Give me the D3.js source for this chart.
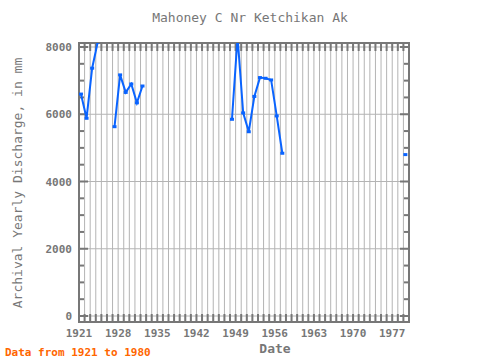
<!DOCTYPE html>
<html>
<head>
<meta charset="utf-8">
<script src="https://cdn.jsdelivr.net/npm/d3@7"></script>
<style>
  body { margin: 0; background: #fff; }
  svg { display: block; font-family: "DejaVu Sans Mono", monospace; }
</style>
</head>
<body>
<svg id="chart" width="480" height="360"></svg>
<script>
// annual values (mm), null = gap in record
const years = [1921, 1922, 1923, 1924, 1925, 1927, 1928, 1929, 1930, 1931, 1932, 1933,
  1948, 1949, 1950, 1951, 1952, 1953, 1954, 1955, 1956, 1957, 1958, 1979];
const discharge = [6600, 5880, 7370, 8150, null, 5630, 7170, 6650, 6900, 6340, 6840, null,
  5850, 8300, 6040, 5480, 6530, 7090, 7070, 7020, 5950, 4840, null, 4800];
const xTickYears = [1921, 1928, 1935, 1942, 1949, 1956, 1963, 1970, 1977];
const yTickValues = [0, 2000, 4000, 6000, 8000];

const svg = d3.select("#chart");
const pLeft = 79, pRight = 409, pTop = 43, pBottom = 322;
const grey = "#777";

const x = d3.scaleLinear().domain([1921, 1980]).range([pLeft, pRight]);
const y = d3.scaleLinear().domain([0, 8000]).range([316, 47]);

// gridlines
const yearsAll = d3.range(1921, 1981);
svg.append("g").selectAll("line").data(yearsAll.slice(1, -1)).join("line")
  .attr("x1", d => x(d)).attr("x2", d => x(d))
  .attr("y1", pTop).attr("y2", pBottom)
  .attr("stroke", "#b4b4b4").attr("stroke-width", 1);
svg.append("g").selectAll("line").data(yTickValues).join("line")
  .attr("x1", pLeft).attr("x2", pRight)
  .attr("y1", d => y(d)).attr("y2", d => y(d))
  .attr("stroke", "#b4b4b4").attr("stroke-width", 1);

// ticks
const ticks = svg.append("g").attr("stroke", grey).attr("stroke-width", 2);
yearsAll.forEach(yr => {
  ticks.append("line").attr("x1", x(yr)).attr("x2", x(yr)).attr("y1", pBottom).attr("y2", pBottom - 8);
  ticks.append("line").attr("x1", x(yr)).attr("x2", x(yr)).attr("y1", pTop).attr("y2", pTop + 8);
});
d3.range(0, 8001, 500).forEach(v => {
  const len = v % 2000 === 0 ? 9 : 5;
  ticks.append("line").attr("x1", pLeft).attr("x2", pLeft + len).attr("y1", y(v)).attr("y2", y(v));
  ticks.append("line").attr("x1", pRight).attr("x2", pRight - len).attr("y1", y(v)).attr("y2", y(v));
});

// frame
svg.append("rect")
  .attr("x", pLeft).attr("y", pTop).attr("width", pRight - pLeft).attr("height", pBottom - pTop)
  .attr("fill", "none").attr("stroke", grey).attr("stroke-width", 2);

// line
svg.append("clipPath").attr("id", "plot-clip")
  .append("rect").attr("x", pLeft).attr("y", pTop).attr("width", pRight - pLeft).attr("height", pBottom - pTop);

const pts = years.map((yr, i) => ({ yr: yr + 0.35, v: discharge[i] }));
const line = d3.line().defined(d => d.v != null).x(d => x(d.yr)).y(d => y(d.v));
const plot = svg.append("g").attr("clip-path", "url(#plot-clip)");
plot.append("path").datum(pts)
  .attr("d", line)
  .attr("fill", "none").attr("stroke", "#0a64ff").attr("stroke-width", 2);
plot.selectAll("rect.pt").data(pts.filter(d => d.v != null)).join("rect")
  .attr("class", "pt")
  .attr("x", d => x(d.yr) - 2).attr("y", d => y(d.v) - 1.5)
  .attr("width", 4).attr("height", 3)
  .attr("fill", "#0a64ff");

// labels
svg.append("g").selectAll("text").data(xTickYears).join("text")
  .attr("x", d => x(d)).attr("y", 337)
  .attr("text-anchor", "middle").attr("font-size", 11).attr("font-weight", "bold")
  .attr("fill", grey).text(d => d);
svg.append("g").selectAll("text").data(yTickValues).join("text")
  .attr("x", 72).attr("y", d => y(d) + 4)
  .attr("text-anchor", "end").attr("font-size", 11).attr("font-weight", "bold")
  .attr("fill", grey).text(d => d);

svg.append("text").attr("x", 250).attr("y", 22)
  .attr("text-anchor", "middle").attr("font-size", 13)
  .attr("fill", grey).text("Mahoney C Nr Ketchikan Ak");
svg.append("text").attr("x", 275).attr("y", 353)
  .attr("text-anchor", "middle").attr("font-size", 13).attr("font-weight", "bold")
  .attr("fill", grey).text("Date");
svg.append("text")
  .attr("transform", "translate(22,183) rotate(-90)")
  .attr("text-anchor", "middle").attr("font-size", 13)
  .attr("fill", grey).text("Archival Yearly Discharge, in mm");
svg.append("text").attr("x", 5).attr("y", 356)
  .attr("font-size", 11).attr("font-weight", "bold")
  .attr("fill", "#ff6600").text("Data from 1921 to 1980");
</script>
</body>
</html>
